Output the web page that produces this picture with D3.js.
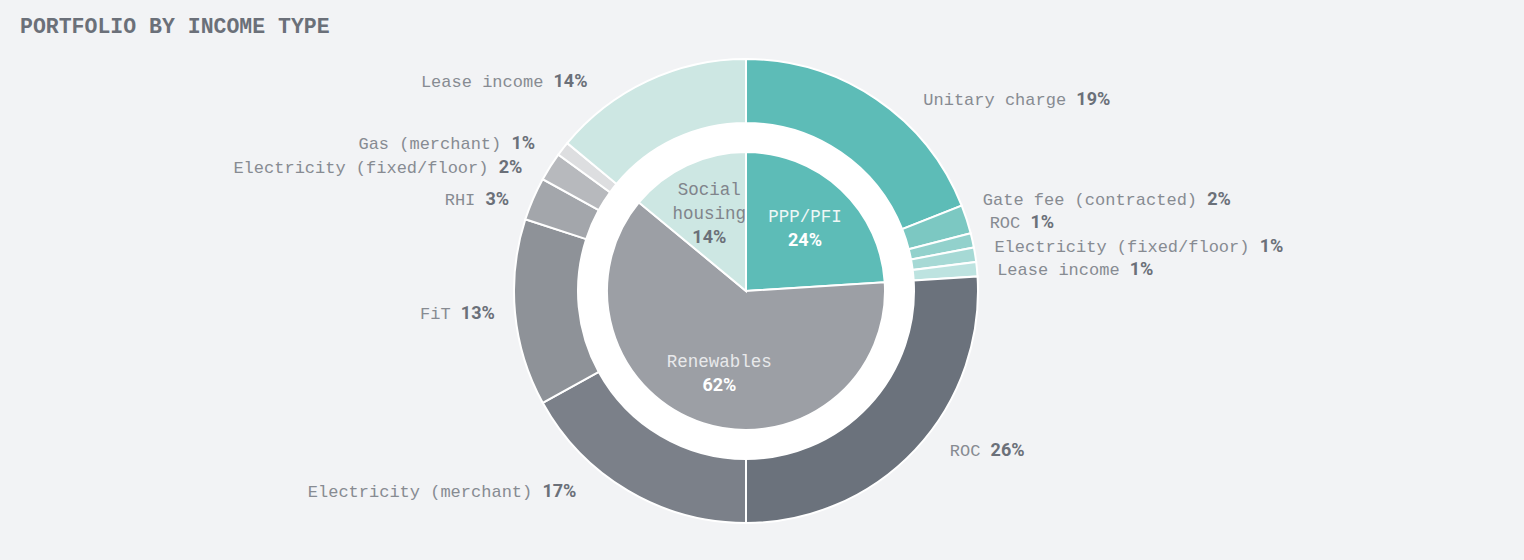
<!DOCTYPE html>
<html>
<head>
<meta charset="utf-8">
<script src="https://cdn.jsdelivr.net/npm/d3@7"></script>
<style>
  html, body { margin: 0; padding: 0; background: #f2f3f5; }
  svg { display: block; }
</style>
</head>
<body>
<svg id="chart" width="1524" height="560"></svg>
<script>
// ---- data ----
const title = "PORTFOLIO BY INCOME TYPE";
const innerCategories = ["PPP/PFI", "Renewables", "Social housing"];
const innerValues = [24, 62, 14];
const outerCategories = [
  "Unitary charge", "Gate fee (contracted)", "ROC", "Electricity (fixed/floor)", "Lease income",
  "ROC", "Electricity (merchant)", "FiT", "RHI", "Electricity (fixed/floor)", "Gas (merchant)",
  "Lease income"
];
const outerValues = [19, 2, 1, 1, 1, 26, 17, 13, 3, 2, 1, 14];

// ---- styles ----
const innerColors = ["#5dbcb7", "#9c9fa5", "#cde7e3"];
const outerColors = ["#5dbcb7", "#7cc8c2", "#92d1cc", "#a6d9d5", "#bde3e0",
  "#6b727c", "#7b8089", "#8e9298", "#a3a6ab", "#b7b9bd", "#dddee0", "#cde7e3"];
const innerNameColors = ["#eef7f6", "#e8e9eb", "#80848b"];
const innerPctColors = ["#ffffff", "#ffffff", "#6b7079"];

const W = 1524, H = 560;
const cx = 746, cy = 291;
const rInner = 139, rOuterIn = 168, rOuterOut = 232;
const labelFont = "'Liberation Mono', 'DejaVu Sans Mono', monospace";
const pctFont = "Roboto, 'Noto Sans', sans-serif";

const svg = d3.select("#chart");
svg.append("rect").attr("width", W).attr("height", H).attr("fill", "#f2f3f5");

svg.append("text")
  .attr("x", 20).attr("y", 33)
  .attr("font-family", labelFont).attr("font-weight", 700)
  .attr("font-size", 21.5).attr("fill", "#6b7079")
  .text(title);

const g = svg.append("g").attr("transform", `translate(${cx},${cy})`);

// white backing disc for gap between rings
g.append("circle").attr("r", rOuterIn + 1).attr("fill", "#ffffff");

const pie = d3.pie().sort(null).value(d => d);
const innerArcs = pie(innerValues);
const outerArcs = pie(outerValues);

const arcInner = d3.arc().innerRadius(0).outerRadius(rInner);
const arcOuter = d3.arc().innerRadius(rOuterIn).outerRadius(rOuterOut);

g.selectAll("path.inner").data(innerArcs).join("path")
  .attr("class", "inner")
  .attr("d", arcInner)
  .attr("fill", (d, i) => innerColors[i])
  .attr("stroke", "#ffffff").attr("stroke-width", 2);

g.selectAll("path.outer").data(outerArcs).join("path")
  .attr("class", "outer")
  .attr("d", arcOuter)
  .attr("fill", (d, i) => outerColors[i])
  .attr("stroke", "#ffffff").attr("stroke-width", 2);

// ---- inner labels ----
const innerLabelArc = d3.arc().innerRadius(rInner * 0.62).outerRadius(rInner * 0.62);
innerArcs.forEach((d, i) => {
  const [x, y] = innerLabelArc.centroid(d);
  const words = innerCategories[i] === "Social housing" ? ["Social", "housing"] : [innerCategories[i]];
  const lines = words.length + 1;
  const lh = 24;
  const y0 = y - (lines - 1) * lh / 2;
  const t = g.append("text").attr("text-anchor", "middle").attr("font-size", 17.5);
  words.forEach((w, k) => {
    t.append("tspan").attr("x", x).attr("y", y0 + k * lh).attr("dy", "0.35em")
      .attr("font-family", labelFont).attr("fill", innerNameColors[i]).text(w);
  });
  t.append("tspan").attr("x", x).attr("y", y0 + words.length * lh).attr("dy", "0.35em")
    .attr("font-family", pctFont).attr("font-weight", 700).attr("font-size", 18)
    .attr("fill", innerPctColors[i])
    .text(innerValues[i] + "%");
});

// ---- outer labels ----
const Rn = rOuterOut;      // natural radius for vertical placement
const ellA = 252, ellB = 270; // label ellipse for horizontal placement
const minGap = 23.5;
const labels = outerArcs.map((d, i) => {
  const a = (d.startAngle + d.endAngle) / 2;
  return { i, a, right: a < Math.PI, y: -Rn * Math.cos(a) };
});
// push overlapping labels upward, starting from the bottom of each side
function spread(arr) {
  arr.sort((p, q) => q.y - p.y);
  for (let k = 1; k < arr.length; k++) {
    arr[k].y = Math.min(arr[k].y, arr[k - 1].y - minGap);
  }
}
spread(labels.filter(l => l.right));
spread(labels.filter(l => !l.right));

labels.forEach(l => {
  const r = Math.min(Math.abs(l.y) / ellB, 1);
  const dx = ellA * Math.sqrt(1 - r * r);
  const x = l.right ? dx : -dx;
  const t = g.append("text")
    .attr("x", x).attr("y", l.y).attr("dy", "0.35em")
    .attr("font-size", 17)
    .attr("text-anchor", l.right ? "start" : "end");
  t.append("tspan").attr("font-family", labelFont).attr("fill", "#878b92")
    .text(outerCategories[l.i] + " ");
  t.append("tspan").attr("font-family", pctFont).attr("font-weight", 700)
    .attr("font-size", 18).attr("fill", "#6b7079")
    .text(outerValues[l.i] + "%");
});
</script>
</body>
</html>
